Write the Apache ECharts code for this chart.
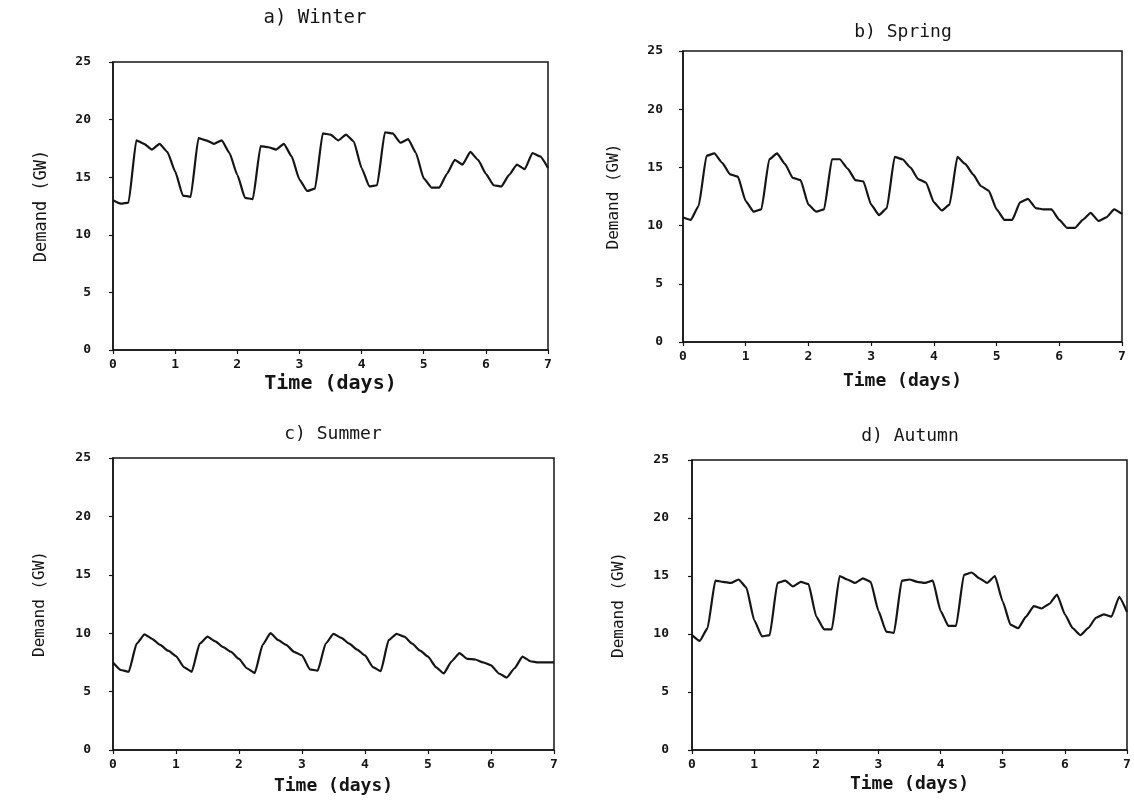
<!DOCTYPE html>
<html>
<head>
<meta charset="utf-8">
<script src="https://cdn.jsdelivr.net/npm/echarts@6/dist/echarts.min.js"></script>
<style>
html,body{margin:0;padding:0;background:#fff;}
#c{width:1134px;height:803px;}
</style>
</head>
<body>
<div id="c"></div>
<script>
// Time step between samples (days): 3 hours
var STEP = 0.125;
var xTicks = [0, 1, 2, 3, 4, 5, 6, 7];
var yTicks = [0, 5, 10, 15, 20, 25];
var panelTitles = ['a) Winter', 'b) Spring', 'c) Summer', 'd) Autumn'];

var winter = [13.0,12.7,12.8,18.2,17.9,17.4,17.9,17.2,15.5,13.4,13.3,18.4,18.2,17.9,18.2,17.1,15.2,13.2,13.1,17.7,17.6,17.4,17.9,16.8,14.8,13.8,14.0,18.8,18.7,18.2,18.7,18.1,15.8,14.2,14.3,18.9,18.8,18.0,18.3,17.1,14.9,14.1,14.1,15.3,16.5,16.1,17.2,16.5,15.3,14.3,14.2,15.2,16.1,15.7,17.1,16.8,15.8];
var spring = [10.7,10.5,11.7,16.0,16.2,15.4,14.4,14.2,12.1,11.2,11.4,15.7,16.2,15.3,14.1,13.9,11.8,11.2,11.4,15.7,15.7,14.9,13.9,13.8,11.8,10.9,11.5,15.9,15.7,15.0,14.0,13.7,12.0,11.3,11.8,15.9,15.3,14.4,13.4,13.0,11.4,10.5,10.5,12.0,12.3,11.5,11.4,11.4,10.5,9.8,9.8,10.5,11.1,10.4,10.7,11.4,11.0];
var summer = [7.5,6.85,6.7,9.1,9.9,9.5,9.0,8.5,8.05,7.1,6.7,9.1,9.7,9.3,8.8,8.4,7.8,7.0,6.6,9.0,10.0,9.4,9.0,8.4,8.1,6.9,6.8,9.1,9.95,9.6,9.1,8.6,8.1,7.1,6.75,9.4,9.95,9.7,9.1,8.5,8.0,7.1,6.55,7.6,8.3,7.8,7.75,7.5,7.25,6.55,6.2,7.0,8.0,7.6,7.5,7.5,7.5];
var autumn = [9.9,9.4,10.5,14.6,14.5,14.4,14.7,14.0,11.2,9.8,9.9,14.4,14.6,14.1,14.5,14.3,11.5,10.4,10.4,15.0,14.7,14.4,14.8,14.5,12.0,10.2,10.1,14.6,14.7,14.5,14.4,14.6,12.0,10.7,10.7,15.1,15.3,14.8,14.4,15.0,12.8,10.8,10.5,11.5,12.4,12.2,12.6,13.4,11.7,10.5,9.9,10.5,11.4,11.7,11.5,13.2,11.9];

var seriesData = [winter, spring, summer, autumn];

// layout (pixels) for each panel
var grids = [
  {left:113, top:62, width:435, height:288},
  {left:683, top:51, width:439, height:291},
  {left:113, top:458, width:441, height:292},
  {left:692, top:460, width:435, height:290}
];
var titlePos = [{x:310, y:4, size:19},{x:898, y:18, size:18},{x:328, y:420, size:18},{x:905, y:422, size:18}];
var xNameGap = [24, 30, 27, 25];
var xNameSize = [20, 18, 18, 18];
var yNameGap = [63, 61, 65, 65];
var yNameSize = [17, 16, 16, 16];
var yLabelMargin = [22, 20, 22, 23];

var FONT = '"DejaVu Sans Mono", "Liberation Mono", monospace';
var INK = '#151515';

var option = {
  backgroundColor: '#ffffff',
  animation: false,
  title: panelTitles.map(function(t, i){
    return {text: t, left: titlePos[i].x, top: titlePos[i].y, textAlign: 'center',
      textStyle: {fontFamily: FONT, fontSize: titlePos[i].size, fontWeight: 'normal', color: INK}};
  }),
  grid: grids.map(function(g){
    return {left: g.left, top: g.top, width: g.width, height: g.height, show: true,
      borderColor: INK, borderWidth: 1.5, backgroundColor: 'transparent', containLabel: false};
  }),
  xAxis: grids.map(function(g, i){
    return {type: 'value', gridIndex: i, min: xTicks[0], max: xTicks[xTicks.length-1], interval: 1,
      name: 'Time (days)', nameLocation: 'middle', nameGap: xNameGap[i],
      nameTextStyle: {fontFamily: FONT, fontSize: xNameSize[i], color: INK, fontWeight: 'bold'},
      axisLine: {show: true, lineStyle: {color: INK, width: 1.5}},
      axisTick: {show: true, length: 4, inside: false, lineStyle: {color: INK, width: 1.2}},
      axisLabel: {fontFamily: FONT, fontSize: 13, color: INK, margin: 8, fontWeight: 'bold'},
      splitLine: {show: false}};
  }),
  yAxis: grids.map(function(g, i){
    return {type: 'value', gridIndex: i, min: yTicks[0], max: yTicks[yTicks.length-1], interval: 5,
      name: 'Demand (GW)', nameLocation: 'middle', nameGap: yNameGap[i],
      nameTextStyle: {fontFamily: FONT, fontSize: yNameSize[i], color: INK},
      axisLine: {show: true, lineStyle: {color: INK, width: 1.5}},
      axisTick: {show: true, length: 4, inside: false, lineStyle: {color: INK, width: 1.2}},
      axisLabel: {fontFamily: FONT, fontSize: 13, color: INK, margin: yLabelMargin[i], fontWeight: 'bold'},
      splitLine: {show: false}};
  }),
  series: seriesData.map(function(arr, i){
    return {type: 'line', xAxisIndex: i, yAxisIndex: i, showSymbol: false, symbol: 'none',
      lineStyle: {color: INK, width: 2.2}, smooth: 0.15, smoothMonotone: 'x',
      data: arr.map(function(v, k){ return [k * STEP, v]; })};
  })
};

var chart = echarts.init(document.getElementById('c'), null, {renderer: 'canvas'});
chart.setOption(option);
</script>
</body>
</html>
